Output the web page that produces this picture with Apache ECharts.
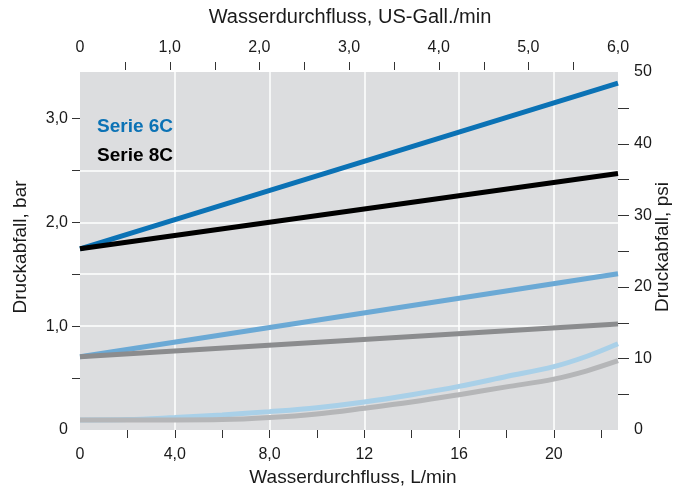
<!DOCTYPE html>
<html>
<head>
<meta charset="utf-8">
<script src="https://cdn.jsdelivr.net/npm/echarts@6/dist/echarts.min.js"></script>
<style>html,body{margin:0;padding:0;background:#fff}#c{width:685px;height:493px}</style>
</head>
<body>
<div id="c"></div>
<script>
// ---- data (bar vs L/min) ----
const flowEnds = [0, 22.71];
const serie6C_high = [1.745, 3.34];
const serie8C_high = [1.745, 2.47];
const serie6C_mid = [0.705, 1.505];
const serie8C_mid = [0.705, 1.02];
const flowCurve = [0, 2, 4, 6, 8, 10, 12, 14, 16, 18, 20, 21.4, 22.71];
const serie6C_low = [0.097, 0.10, 0.12, 0.145, 0.177, 0.215, 0.27, 0.34, 0.42, 0.515, 0.61, 0.71, 0.83];
const serie8C_low = [0.097, 0.097, 0.097, 0.10, 0.12, 0.155, 0.21, 0.27, 0.34, 0.415, 0.49, 0.57, 0.667];

// tick values
const lminLabels = [0, 4, 8, 12, 16, 20];
const lminTicks = [2, 4, 6, 8, 10, 12, 14, 16, 18, 20, 22];
const galLabels = [0, 1, 2, 3, 4, 5, 6];
const galTicks = [0.5, 1, 1.5, 2, 2.5, 3, 3.5, 4, 4.5, 5, 5.5];
const barLabels = [0, 1, 2, 3];
const barTicks = [0.5, 1, 1.5, 2, 2.5, 3];
const psiLabels = [0, 10, 20, 30, 40, 50];
const psiTicks = [5, 10, 15, 20, 25, 30, 35, 40, 45];

const LMAX = 22.71, GALMAX = 6, PSIMAX = 50, BARMAX = 50 / 14.5038;
const FONT = '"Liberation Sans", Arial, Helvetica, sans-serif';
const TXT = '#1a1a1a';
const TICKC = '#333';

function pairs(xs, ys) { return xs.map((x, i) => [x, ys[i]]); }
function dec(v) { return v === 0 ? '0' : (v < 10 ? v.toFixed(1).replace('.', ',') : String(v)); }

const chart = echarts.init(document.getElementById('c'), null, {renderer: 'canvas'});
function lbl(extra) { return Object.assign({fontFamily: FONT, fontSize: 16, color: TXT}, extra); }
function ts() { return {color: TICKC, width: 1}; }

function line(data, color, smooth, z) {
  return {type: 'line', data: data, xAxisIndex: 0, yAxisIndex: 0, symbol: 'none', smooth: smooth,
    lineStyle: {color: color, width: 5, cap: 'butt'}, z: z, silent: true, animation: false};
}

// tick marks for the top (US-Gall.) and right (psi) axes, placed through the axes' own scales
function tickSeries(data, dir) {
  return {type: 'custom', xAxisIndex: 1, yAxisIndex: 1, data: data, silent: true, clip: false, z: 10,
    renderItem: function (params, api) {
      const p = api.coord([api.value(0), api.value(1)]);
      const shape = dir === 'up'
        ? {x1: Math.round(p[0]) + 0.5, y1: p[1] - 2, x2: Math.round(p[0]) + 0.5, y2: p[1] - 10}
        : {x1: p[0], y1: Math.round(p[1]) + 0.5, x2: p[0] + 11, y2: Math.round(p[1]) + 0.5};
      return {type: 'line', shape: shape, style: {stroke: TICKC, lineWidth: 1}};
    }};
}

chart.setOption({
  animation: false,
  grid: {left: 80, right: 67, top: 72, bottom: 63, show: true, backgroundColor: '#dcdddf', borderWidth: 0},
  xAxis: [
    {type: 'value', position: 'bottom', min: 0, max: LMAX, interval: 2, offset: 2,
      axisLine: {show: false},
      axisTick: {show: true, length: 8, lineStyle: ts(), customValues: lminTicks},
      axisLabel: lbl({customValues: lminLabels, margin: 15, formatter: dec}),
      splitLine: {show: false}},
    {type: 'value', position: 'top', min: 0, max: GALMAX, interval: 0.5, offset: 2,
      axisLine: {show: false},
      axisTick: {show: false},
      axisLabel: lbl({customValues: galLabels, margin: 14, formatter: dec}),
      splitLine: {show: false}},
    {type: 'value', position: 'bottom', min: 0, max: LMAX, interval: 4,
      axisLine: {show: false}, axisTick: {show: false}, axisLabel: {show: false},
      splitLine: {show: true, showMinLine: false, showMaxLine: false, lineStyle: {color: '#ffffff', width: 1.5}}}
  ],
  yAxis: [
    {type: 'value', position: 'left', min: 0, max: BARMAX, interval: 0.5,
      axisLine: {show: false},
      axisTick: {show: true, length: 8, lineStyle: ts(), customValues: barTicks},
      axisLabel: lbl({customValues: barLabels, margin: 12, formatter: dec}),
      splitLine: {show: true, showMinLine: false, showMaxLine: false, lineStyle: {color: '#ffffff', width: 1.5}}},
    {type: 'value', position: 'right', min: 0, max: PSIMAX, interval: 5,
      axisLine: {show: false},
      axisTick: {show: false},
      axisLabel: lbl({customValues: psiLabels, margin: 16, formatter: v => String(v)}),
      splitLine: {show: false}}
  ],
  series: [
    line(pairs(flowCurve, serie6C_low), '#a9d0e8', 0.35, 2),
    line(pairs(flowCurve, serie8C_low), '#b5b6b8', 0.35, 3),
    line(pairs(flowEnds, serie6C_mid), '#6ba9d5', false, 4),
    line(pairs(flowEnds, serie8C_mid), '#8b8c8e', false, 5),
    line(pairs(flowEnds, serie6C_high), '#0b72b5', false, 6),
    line(pairs(flowEnds, serie8C_high), '#000000', false, 7),
    tickSeries(galTicks.map(v => [v, PSIMAX]), 'up'),
    tickSeries(psiTicks.map(v => [GALMAX, v]), 'right'),
    {type: 'line', xAxisIndex: 2, yAxisIndex: 0, data: [[0, 0], [LMAX, BARMAX]], symbol: 'none',
      lineStyle: {opacity: 0, width: 0}, silent: true, z: 0}
  ],
  graphic: [
    {type: 'text', x: 350, y: 17, style: {text: 'Wasserdurchfluss, US-Gall./min', font: '20px ' + FONT, fill: TXT, align: 'center', verticalAlign: 'middle'}},
    {type: 'text', x: 353, y: 478, style: {text: 'Wasserdurchfluss, L/min', font: '19px ' + FONT, fill: TXT, align: 'center', verticalAlign: 'middle'}},
    {type: 'text', x: 21, y: 247, rotation: Math.PI / 2, style: {text: 'Druckabfall, bar', font: '19px ' + FONT, fill: TXT, align: 'center', verticalAlign: 'middle'}},
    {type: 'text', x: 663, y: 247, rotation: Math.PI / 2, style: {text: 'Druckabfall, psi', font: '19px ' + FONT, fill: TXT, align: 'center', verticalAlign: 'middle'}},
    {type: 'text', x: 97, y: 127, z: 20, style: {text: 'Serie 6C', font: 'bold 19px ' + FONT, fill: '#0b72b5', verticalAlign: 'middle'}},
    {type: 'text', x: 97, y: 156, z: 20, style: {text: 'Serie 8C', font: 'bold 19px ' + FONT, fill: '#000000', verticalAlign: 'middle'}}
  ]
});
</script>
</body>
</html>
